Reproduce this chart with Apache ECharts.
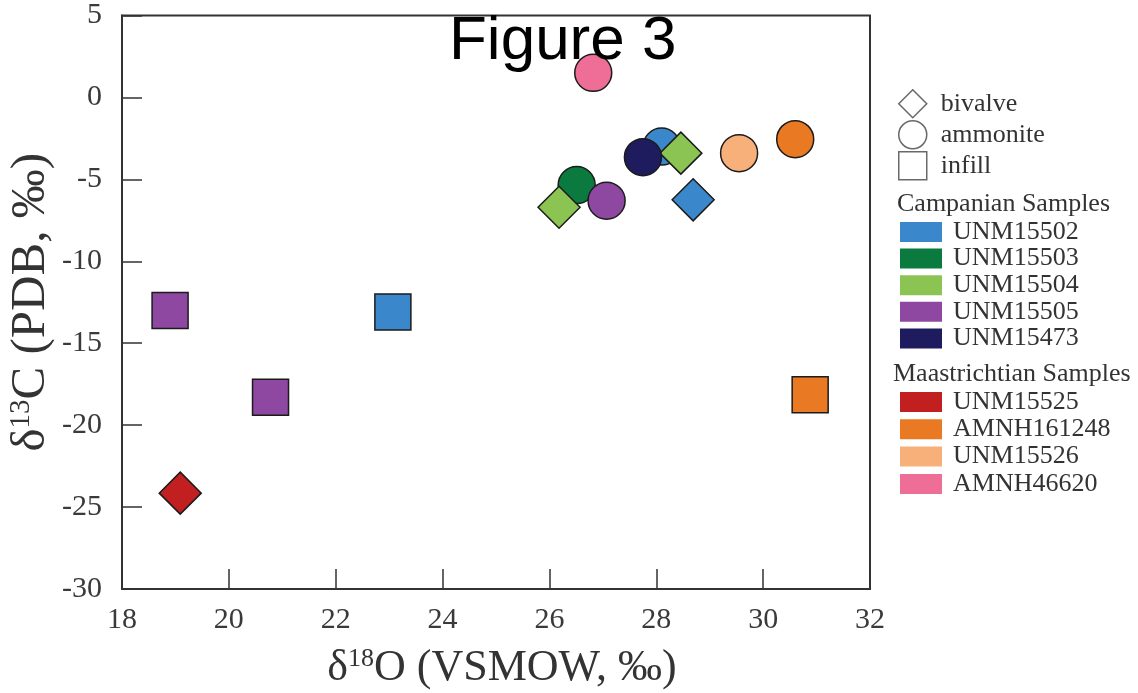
<!DOCTYPE html>
<html>
<head>
<meta charset="utf-8">
<title>Figure 3</title>
<script src="https://cdn.jsdelivr.net/npm/echarts@6/dist/echarts.min.js"></script>
<style>
  html, body { margin: 0; padding: 0; background: #fff; }
  #chart { width: 1138px; height: 693px; }
</style>
</head>
<body>
<div id="chart"></div>
<script>
// δ18O (VSMOW, ‰) vs δ13C (PDB, ‰) for each specimen; third field is the sample material
const UNM15502 = [[23.07, -13.1, 'infill'], [28.1, -3.0, 'ammonite'], [28.69, -6.25, 'bivalve']];
const UNM15503 = [[26.51, -5.35, 'ammonite']];
const UNM15504 = [[28.46, -3.4, 'bivalve'], [26.18, -6.7, 'bivalve']];
const UNM15505 = [[18.9, -13.0, 'infill'], [20.78, -18.3, 'infill'], [27.07, -6.3, 'ammonite']];
const UNM15473 = [[27.75, -3.65, 'ammonite']];
const UNM15525 = [[19.09, -24.15, 'bivalve']];
const AMNH161248 = [[30.88, -18.15, 'infill'], [30.6, -2.55, 'ammonite']];
const UNM15526 = [[29.55, -3.4, 'ammonite']];
const AMNH46620 = [[26.82, 1.5, 'ammonite']];

const campanian = ['UNM15502', 'UNM15503', 'UNM15504', 'UNM15505', 'UNM15473'];
const maastrichtian = ['UNM15525', 'AMNH161248', 'UNM15526', 'AMNH46620'];
const materials = ['bivalve', 'ammonite', 'infill'];

const xTicks = { min: 18, max: 32, step: 2 };
const yTicks = { min: -30, max: 5, step: 5 };

const specimenData = { UNM15502, UNM15503, UNM15504, UNM15505, UNM15473, UNM15525, AMNH161248, UNM15526, AMNH46620 };
const specimenColor = {
  UNM15502: '#3b87cc', UNM15503: '#0b7a3e', UNM15504: '#8cc453', UNM15505: '#8f48a1',
  UNM15473: '#1e1c5e', UNM15525: '#c21f20', AMNH161248: '#e97a23', UNM15526: '#f8b07b',
  AMNH46620: '#ee6e97'
};
const shapeOf = { bivalve: ['diamond', 42], ammonite: ['circle', 37], infill: ['rect', 36] };

const serif = '"Liberation Serif", "Times New Roman", serif';
const inkGray = '#333';

const series = [];
campanian.concat(maastrichtian).forEach(name => {
  series.push({
    type: 'scatter',
    name: name,
    itemStyle: { color: specimenColor[name], borderColor: '#1b1b1b', borderWidth: 1.5, opacity: 1 },
    emphasis: { disabled: true },
    data: specimenData[name].map(d => ({
      value: [d[0], d[1]],
      symbol: shapeOf[d[2]][0],
      symbolSize: shapeOf[d[2]][1]
    }))
  });
});
// empty series so the material key gets its own legend entries
materials.forEach(m => series.push({ type: 'scatter', name: m, data: [] }));

const legendText = { fontFamily: serif, fontSize: 26, color: inkGray, lineHeight: 26, padding: [0, 0, 0, 6] };

function axisName(size, supSize, pad) {
  return {
    padding: pad,
    rich: {
      d: { fontFamily: serif, fontSize: size, color: inkGray, lineHeight: size },
      s: { fontFamily: serif, fontSize: supSize, color: inkGray, verticalAlign: 'top', lineHeight: supSize + 1 }
    }
  };
}

const option = {
  animation: false,
  title: {
    text: 'Figure 3', left: 449, top: 11, padding: 0, z: 10,
    textStyle: { fontFamily: '"Liberation Sans", Arial, sans-serif', fontSize: 62, fontWeight: 'normal', color: '#000' }
  },
  grid: {
    left: 122, right: 268, top: 15.5, bottom: 104,
    containLabel: false, outerBoundsMode: 'none',
    show: true, borderColor: inkGray, borderWidth: 2, backgroundColor: 'transparent'
  },
  xAxis: {
    type: 'value', min: xTicks.min, max: xTicks.max, interval: xTicks.step,
    name: '{d|δ}{s|18}{d|O (VSMOW, ‰)}', nameLocation: 'middle', nameGap: 57,
    nameTextStyle: axisName(44, 26, [0, 0, 0, 12]),
    axisLine: { show: true, onZero: false, lineStyle: { color: inkGray, width: 2 } },
    axisTick: { show: true, inside: true, length: 20, lineStyle: { color: inkGray, width: 1.5 } },
    axisLabel: { fontFamily: serif, fontSize: 30, color: '#3a3a3a', margin: 16 },
    splitLine: { show: false }
  },
  yAxis: {
    type: 'value', min: yTicks.min, max: yTicks.max, interval: yTicks.step,
    name: '{d|δ}{s|13}{d|C (PDB, ‰)}', nameLocation: 'middle', nameGap: 66,
    nameMoveOverlap: false,
    nameTextStyle: axisName(49, 29, 0),
    axisLine: { show: true, onZero: false, lineStyle: { color: inkGray, width: 2 } },
    axisTick: { show: true, inside: true, length: 20, lineStyle: { color: inkGray, width: 1.5 } },
    axisLabel: { fontFamily: serif, fontSize: 30, color: '#3a3a3a', margin: 20 },
    splitLine: { show: false }
  },
  legend: [
    {
      orient: 'vertical', left: 893, top: 84, selectedMode: false,
      itemWidth: 28, itemHeight: 28, itemGap: 1.5,
      textStyle: Object.assign({}, legendText, { padding: [0, 0, 0, 9] }),
      data: materials.map(m => ({
        name: m,
        icon: shapeOf[m][0],
        itemStyle: { color: 'rgba(255,255,255,0)', borderColor: '#444', borderWidth: 1.5 }
      }))
    },
    {
      orient: 'vertical', left: 895, top: 214, selectedMode: false,
      itemWidth: 42, itemHeight: 20, itemGap: 0.6,
      itemStyle: { borderWidth: 0 },
      textStyle: legendText,
      data: campanian.map(n => ({ name: n, icon: 'rect' }))
    },
    {
      orient: 'vertical', left: 895, top: 384, selectedMode: false,
      itemWidth: 42, itemHeight: 20, itemGap: 1.3,
      itemStyle: { borderWidth: 0 },
      textStyle: legendText,
      data: maastrichtian.map(n => ({ name: n, icon: 'rect' }))
    }
  ],
  graphic: [
    { type: 'text', left: 897, top: 191, style: { text: 'Campanian Samples', font: '26px ' + serif, fill: inkGray } },
    { type: 'text', left: 893, top: 361, style: { text: 'Maastrichtian Samples', font: '26px ' + serif, fill: inkGray } }
  ],
  series: series
};

const chart = echarts.init(document.getElementById('chart'), null, { renderer: 'canvas' });
chart.setOption(option);
</script>
</body>
</html>
